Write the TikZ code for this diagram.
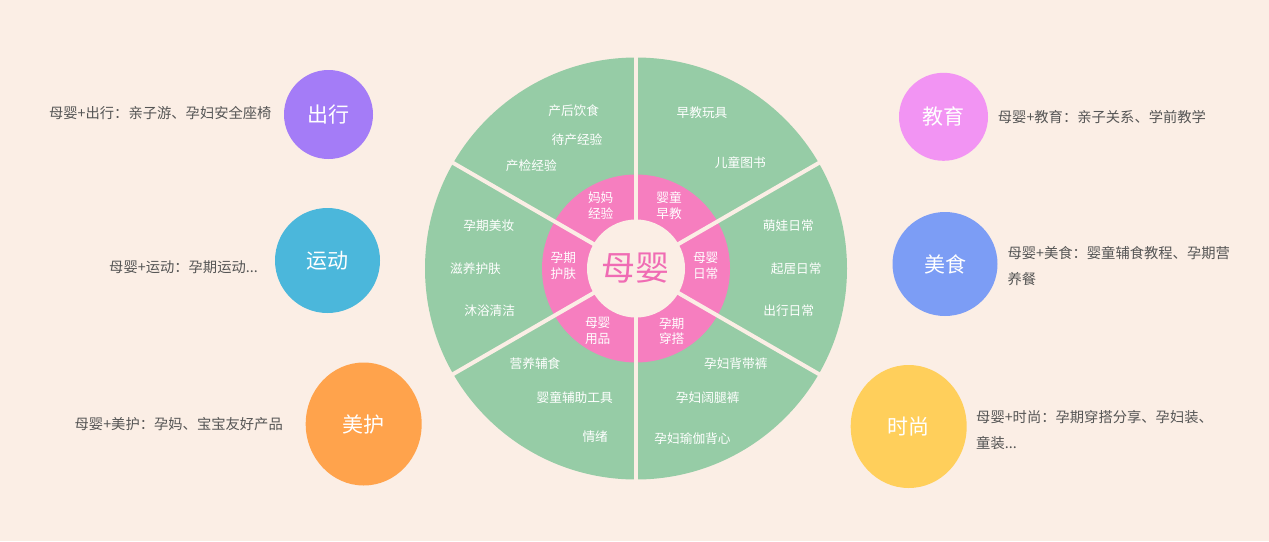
\documentclass[tikz,border=0pt]{standalone}
\usepackage{fontspec}
\setmainfont{Noto Sans CJK SC}
\usepackage{tikz}
\usetikzlibrary{shapes}
\usetikzlibrary{calc}

\definecolor{bgcol}{HTML}{FBEEE5}
\definecolor{wheelgreen}{HTML}{96CCA6}
\definecolor{ringpink}{HTML}{F67EBF}
\definecolor{hubpink}{HTML}{F06CB4}
\definecolor{textgray}{HTML}{555555}
\definecolor{tripcol}{HTML}{A47CF7}
\definecolor{sportcol}{HTML}{4BB7DB}
\definecolor{beautycol}{HTML}{FFA34C}
\definecolor{educol}{HTML}{F294F3}
\definecolor{foodcol}{HTML}{7C9DF5}
\definecolor{fashioncol}{HTML}{FFCF5B}

\tikzset{
  bubble/.style={ellipse, inner sep=0, text=white, font=\fontsize{21}{21}\selectfont},
  desc/.style={text=textgray, inner sep=0, align=left, font=\fontsize{14.3}{26.6}\selectfont},
  leaf/.style={text=white, inner sep=0, font=\fontsize{12.7}{12.7}\selectfont},
  petal/.style={text=white, inner sep=0, align=center, font=\fontsize{12.7}{15.5}\selectfont},
  hubtext/.style={text=hubpink, inner sep=0, font=\fontsize{34}{34}\selectfont}
}

\begin{document}
\begin{tikzpicture}[x=1pt, y=-1pt]
  \useasboundingbox (0, 0) rectangle (1269, 541);
  \fill[bgcol] (0, 0) rectangle (1269, 541);

  % wheel
  \coordinate (hub) at (636, 268.5);
  \fill[wheelgreen] (hub) circle (211);
  \fill[ringpink] (hub) circle (94);
  \fill[bgcol] (hub) circle (49);
  \foreach \a in {30, 90, ..., 330} {
    \draw[bgcol, line width=4pt] ($(hub) + (\a:48)$) -- ($(hub) + (\a:214)$);
  }
  \node[hubtext] (hubtext) at (635, 268.3) {母婴};

  \foreach \x / \y / \top / \bot [count=\i] in {600.7/205.8/妈妈/经验, 669/205.8/婴童/早教,
      563.3/266/孕期/护肤, 705.7/266/母婴/日常, 597.7/331/母婴/用品, 671.7/331/孕期/穿搭} {
    \node[petal] (petal\i) at (\x, \y) {\top\\\bot};
  }

  \foreach \x / \y / \lab [count=\i] in {573.7/111/产后饮食, 577/140/待产经验, 531.3/165.7/产检经验,
      702/112.3/早教玩具, 740.3/162.3/儿童图书,
      788.3/226/萌娃日常, 796.2/268.3/起居日常, 788.7/310.7/出行日常,
      488.8/226/孕期美妆, 475.5/269/滋养护肤, 489.7/310.7/沐浴清洁,
      535/363.3/营养辅食, 574.7/397.7/婴童辅助工具, 595.2/436.7/情绪,
      735.8/363.3/孕妇背带裤, 707.7/397.7/孕妇阔腿裤, 692.5/439/孕妇瑜伽背心} {
    \node[leaf] (leaf\i) at (\x, \y) {\lab};
  }

  % bubbles, left
  \node[bubble, fill=tripcol, minimum width=89pt, minimum height=89pt] (trip) at (328.5, 114.5) {出行};
  \node[bubble, fill=sportcol, minimum width=105pt, minimum height=105pt] (sport) at (327.5, 260.5) {运动};
  \node[bubble, fill=beautycol, minimum width=116pt, minimum height=123pt] (beauty) at (363.7, 424) {美护};
  \node[desc, anchor=east] (tripdesc) at (271.7, 113) {母婴+出行：亲子游、孕妇安全座椅};
  \node[desc, anchor=east] (sportdesc) at (258, 267) {母婴+运动：孕期运动...};
  \node[desc, anchor=east] (beautydesc) at (283, 424) {母婴+美护：孕妈、宝宝友好产品};

  % bubbles, right
  \node[bubble, fill=educol, minimum width=89pt, minimum height=88pt] (edu) at (943.5, 116.8) {教育};
  \node[bubble, fill=foodcol, minimum width=105pt, minimum height=104pt] (food) at (945, 264) {美食};
  \node[bubble, fill=fashioncol, minimum width=116pt, minimum height=123pt] (fashion) at (908.7, 426.5) {时尚};
  \node[desc, anchor=west] (edudesc) at (997.7, 116.7) {母婴+教育：亲子关系、学前教学};
  \node[desc, anchor=west] (fooddesc) at (1007.3, 266) {母婴+美食：婴童辅食教程、孕期营\\养餐};
  \node[desc, anchor=west] (fashiondesc) at (976, 430) {母婴+时尚：孕期穿搭分享、孕妇装、\\童装...};
\end{tikzpicture}
\end{document}
